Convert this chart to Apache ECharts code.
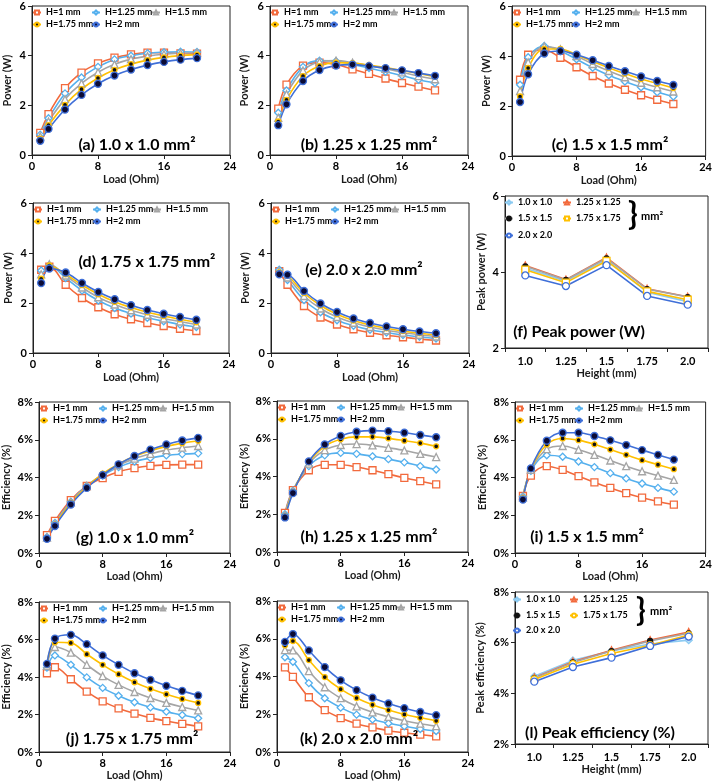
<!DOCTYPE html>
<html><head><meta charset="utf-8">
<script src="https://cdn.jsdelivr.net/npm/echarts@6/dist/echarts.min.js"></script>
<style>html,body{margin:0;padding:0;background:#fff}#c{width:715px;height:783px}</style>
</head><body><div id="c"></div>
<script>
// ---------- DATA ----------
const loads = [1, 2, 4, 6, 8, 10, 12, 14, 16, 18, 20];
const heightNames = ['H=1 mm', 'H=1.25 mm', 'H=1.5 mm', 'H=1.75 mm', 'H=2 mm'];
const xTicksLoad = [0, 8, 16, 24];
const heightCats = ['1.0', '1.25', '1.5', '1.75', '2.0'];
const sectionNames = ['1.0 x 1.0', '1.25 x 1.25', '1.5 x 1.5', '1.75 x 1.75', '2.0 x 2.0'];

// Power (W), rows = H=1, 1.25, 1.5, 1.75, 2 mm
const powerA = [
  [0.89, 1.65, 2.69, 3.32, 3.69, 3.92, 4.05, 4.12, 4.12, 4.09, 4.08],
  [0.82, 1.48, 2.48, 3.12, 3.55, 3.85, 4.00, 4.10, 4.14, 4.16, 4.15],
  [0.75, 1.35, 2.25, 2.88, 3.33, 3.65, 3.86, 3.98, 4.06, 4.10, 4.12],
  [0.66, 1.20, 2.02, 2.65, 3.10, 3.43, 3.66, 3.82, 3.93, 4.00, 4.04],
  [0.57, 1.05, 1.83, 2.42, 2.87, 3.20, 3.44, 3.62, 3.75, 3.84, 3.90]
];
const powerB = [
  [1.87, 2.83, 3.60, 3.72, 3.65, 3.45, 3.27, 3.08, 2.90, 2.75, 2.60],
  [1.70, 2.60, 3.55, 3.80, 3.78, 3.65, 3.50, 3.35, 3.20, 3.03, 2.90],
  [1.50, 2.45, 3.40, 3.75, 3.80, 3.72, 3.60, 3.47, 3.33, 3.18, 3.05],
  [1.35, 2.22, 3.18, 3.58, 3.72, 3.70, 3.62, 3.52, 3.40, 3.28, 3.15],
  [1.20, 2.04, 2.98, 3.42, 3.60, 3.64, 3.58, 3.50, 3.41, 3.30, 3.19]
];
const powerC = [
  [3.05, 4.05, 4.25, 3.93, 3.55, 3.20, 2.90, 2.65, 2.43, 2.25, 2.08],
  [2.85, 3.95, 4.40, 4.20, 3.87, 3.53, 3.23, 2.98, 2.75, 2.55, 2.38],
  [2.60, 3.75, 4.38, 4.27, 4.00, 3.68, 3.40, 3.15, 2.93, 2.75, 2.58],
  [2.38, 3.52, 4.28, 4.28, 4.05, 3.78, 3.52, 3.30, 3.08, 2.90, 2.72],
  [2.16, 3.27, 4.10, 4.20, 4.05, 3.83, 3.60, 3.39, 3.18, 3.00, 2.84]
];
const powerD = [
  [3.33, 3.45, 2.73, 2.20, 1.83, 1.55, 1.35, 1.20, 1.08, 0.97, 0.88],
  [3.30, 3.50, 3.00, 2.50, 2.10, 1.80, 1.58, 1.41, 1.27, 1.14, 1.04],
  [3.15, 3.55, 3.10, 2.62, 2.23, 1.94, 1.71, 1.53, 1.38, 1.26, 1.14],
  [2.97, 3.50, 3.15, 2.72, 2.35, 2.05, 1.82, 1.63, 1.48, 1.35, 1.23],
  [2.80, 3.38, 3.22, 2.80, 2.44, 2.15, 1.91, 1.72, 1.57, 1.44, 1.33]
];
const powerE = [
  [3.27, 2.73, 1.88, 1.42, 1.14, 0.95, 0.81, 0.71, 0.63, 0.56, 0.50],
  [3.33, 2.92, 2.12, 1.63, 1.31, 1.09, 0.93, 0.82, 0.72, 0.65, 0.58],
  [3.28, 3.02, 2.28, 1.78, 1.44, 1.21, 1.04, 0.91, 0.81, 0.73, 0.66],
  [3.22, 3.10, 2.40, 1.90, 1.55, 1.30, 1.12, 0.99, 0.88, 0.79, 0.72],
  [3.15, 3.13, 2.48, 1.98, 1.64, 1.38, 1.20, 1.06, 0.95, 0.86, 0.79]
];
// Peak power (W), rows = sections, columns = heights
const peakPower = [
  [4.10, 3.76, 4.32, 3.47, 3.22],
  [4.17, 3.80, 4.38, 3.56, 3.35],
  [4.15, 3.79, 4.36, 3.55, 3.34],
  [4.06, 3.72, 4.29, 3.49, 3.27],
  [3.91, 3.63, 4.18, 3.37, 3.14]
];
// Efficiency (%)
const effG = [
  [0.95, 1.70, 2.80, 3.55, 3.97, 4.30, 4.50, 4.62, 4.67, 4.68, 4.68],
  [0.85, 1.60, 2.72, 3.55, 4.10, 4.55, 4.85, 5.03, 5.17, 5.24, 5.28],
  [0.82, 1.55, 2.68, 3.55, 4.15, 4.65, 5.00, 5.25, 5.45, 5.58, 5.67],
  [0.78, 1.50, 2.65, 3.50, 4.20, 4.72, 5.12, 5.42, 5.65, 5.82, 5.95],
  [0.75, 1.43, 2.57, 3.45, 4.13, 4.70, 5.14, 5.48, 5.75, 5.96, 6.10]
];
const effH = [
  [2.07, 3.28, 4.33, 4.62, 4.62, 4.50, 4.33, 4.13, 3.93, 3.75, 3.58],
  [2.00, 3.25, 4.55, 5.12, 5.25, 5.20, 5.07, 4.92, 4.75, 4.55, 4.37],
  [1.95, 3.22, 4.68, 5.40, 5.67, 5.72, 5.65, 5.52, 5.38, 5.20, 5.03],
  [1.90, 3.18, 4.75, 5.60, 5.97, 6.10, 6.10, 6.02, 5.90, 5.77, 5.60],
  [1.83, 3.12, 4.80, 5.70, 6.15, 6.37, 6.43, 6.40, 6.32, 6.20, 6.08]
];
const effI = [
  [3.02, 4.10, 4.60, 4.40, 4.07, 3.74, 3.45, 3.17, 2.93, 2.73, 2.56],
  [3.00, 4.35, 5.18, 5.10, 4.85, 4.55, 4.23, 3.95, 3.68, 3.45, 3.25],
  [2.95, 4.40, 5.50, 5.67, 5.47, 5.20, 4.90, 4.60, 4.33, 4.10, 3.87],
  [2.90, 4.45, 5.75, 6.07, 5.98, 5.76, 5.48, 5.20, 4.92, 4.68, 4.44],
  [2.83, 4.48, 5.95, 6.37, 6.37, 6.20, 5.97, 5.72, 5.45, 5.20, 4.95]
];
const effJ = [
  [4.20, 4.52, 3.88, 3.22, 2.70, 2.33, 2.05, 1.82, 1.65, 1.50, 1.37],
  [4.50, 5.15, 4.65, 3.98, 3.42, 3.00, 2.65, 2.38, 2.15, 1.97, 1.80],
  [4.60, 5.60, 5.30, 4.65, 4.05, 3.58, 3.20, 2.88, 2.62, 2.40, 2.22],
  [4.65, 5.85, 5.82, 5.22, 4.65, 4.15, 3.72, 3.37, 3.08, 2.83, 2.62],
  [4.70, 6.05, 6.25, 5.75, 5.15, 4.65, 4.20, 3.85, 3.53, 3.26, 3.02]
];
const effK = [
  [4.48, 3.98, 2.90, 2.22, 1.80, 1.50, 1.30, 1.13, 1.02, 0.92, 0.83],
  [5.02, 4.78, 3.65, 2.85, 2.35, 1.98, 1.72, 1.52, 1.36, 1.22, 1.11],
  [5.40, 5.38, 4.28, 3.43, 2.85, 2.42, 2.10, 1.86, 1.66, 1.50, 1.37],
  [5.65, 5.88, 4.87, 3.97, 3.33, 2.86, 2.50, 2.22, 1.99, 1.81, 1.65],
  [5.83, 6.25, 5.38, 4.50, 3.80, 3.28, 2.88, 2.57, 2.32, 2.12, 1.95]
];
const peakEff = [
  [4.67, 5.30, 5.67, 5.95, 6.10],
  [4.62, 5.25, 5.70, 6.10, 6.42],
  [4.60, 5.22, 5.67, 6.07, 6.37],
  [4.55, 5.15, 5.57, 5.90, 6.30],
  [4.46, 5.04, 5.41, 5.87, 6.24]
];

// ---------- STYLE / LAYOUT ----------
const FONT = 'Lato';
const C_OR = '#F26A3D', C_LB = '#55B0EE', C_GR = '#A5A5A5', C_YE = '#FFC000', C_BL = '#3F6FD8';
const hStyles = [
  {line: C_OR, symbol: 'rect', size: 7, fill: '#fff', border: C_OR},
  {line: C_LB, symbol: 'diamond', size: 7, fill: '#fff', border: C_LB},
  {line: C_GR, symbol: 'triangle', size: 7, fill: '#fff', border: C_GR},
  {line: C_YE, symbol: 'circle', size: 5, fill: '#111', border: C_YE},
  {line: C_BL, symbol: 'circle', size: 7, fill: '#0B0B35', border: C_BL}
];
const peakStylesF = [
  {line: '#8CCBF2', symbol: 'diamond', size: 7, fill: '#BFE3F8', border: '#8CCBF2'},
  {line: C_OR, symbol: 'triangle', size: 7, fill: '#fff', border: C_OR},
  {line: C_GR, symbol: 'circle', size: 5, fill: '#111', border: '#111'},
  {line: C_YE, symbol: 'rect', size: 7, fill: '#fff', border: C_YE},
  {line: C_BL, symbol: 'circle', size: 7, fill: '#fff', border: C_BL}
];
const peakStylesL = peakStylesF.map((s, i) => i === 3 ? Object.assign({}, s, {symbol: 'circle'}) : s);

const charts = [
  {g: [32, 6, 198, 149], type: 'load', data: powerA, yMax: 6, yName: 'Power (W)', pct: false, yGap: 19, xGap: 19},
  {g: [270, 6, 198, 149], type: 'load', data: powerB, yMax: 6, yName: 'Power (W)', pct: false, yGap: 20, xGap: 19},
  {g: [512, 6, 196, 150], type: 'load', data: powerC, yMax: 6, yName: 'Power (W)', pct: false, yGap: 20, xGap: 19},
  {g: [33, 203, 196, 150], type: 'load', data: powerD, yMax: 6, yName: 'Power (W)', pct: false, yGap: 19, xGap: 19},
  {g: [271, 203, 198, 150], type: 'load', data: powerE, yMax: 6, yName: 'Power (W)', pct: false, yGap: 20, xGap: 19},
  {g: [505, 196, 203, 152], type: 'peak', data: peakPower, yMin: 2, yMax: 6, yName: 'Peak power (W)', pct: false, yGap: 18, xGap: 19, styles: peakStylesF, suffix: ''},
  {g: [39, 402, 191, 151], type: 'load', data: effG, yMax: 8, yName: 'Efficiency (%)', pct: true, yGap: 27, xGap: 17},
  {g: [277, 401, 191, 151], type: 'load', data: effH, yMax: 8, yName: 'Efficiency (%)', pct: true, yGap: 27, xGap: 17},
  {g: [515, 402, 192, 151], type: 'load', data: effI, yMax: 8, yName: 'Efficiency (%)', pct: true, yGap: 27, xGap: 17},
  {g: [39, 602, 191, 150], type: 'load', data: effJ, yMax: 8, yName: 'Efficiency (%)', pct: true, yGap: 27, xGap: 17},
  {g: [277, 601, 191, 151], type: 'load', data: effK, yMax: 8, yName: 'Efficiency (%)', pct: true, yGap: 27, xGap: 17},
  {g: [515, 592, 193, 152], type: 'peak', data: peakEff, yMin: 2, yMax: 8, yName: 'Peak efficiency (%)', pct: true, yGap: 29, xGap: 19, styles: peakStylesL, suffix: ' '}
];
const annotations = [
  ['(a) 1.0 x 1.0 mm\u00b2', 137, 145], ['(b) 1.25 x 1.25 mm\u00b2', 369, 145], ['(c) 1.5 x 1.5 mm\u00b2', 610, 145],
  ['(d) 1.75 x 1.75 mm\u00b2', 147, 262], ['(e) 2.0 x 2.0 mm\u00b2', 364, 270], ['(f) Peak power (W)', 579, 332],
  ['(g) 1.0 x 1.0 mm\u00b2', 135, 538], ['(h) 1.25 x 1.25 mm\u00b2', 369, 537], ['(i) 1.5 x 1.5 mm\u00b2', 587, 537],
  ['(j) 1.75 x 1.75 mm\u00b2', 132, 739], ['(k) 2.0 x 2.0 mm\u00b2', 359, 739], ['(l) Peak efficiency (%)', 600, 733]
];
const peakLegendPos = [
  [[517, 204], [575, 204], [517, 220], [575, 220], [517, 237]],
  [[525, 601], [582, 601], [525, 617], [582, 617], [525, 632]]
];
const braces = [[628, 215, 641, 216], [636, 611, 650, 611]];

// ---------- BUILD ----------
const grid = [], xAxis = [], yAxis = [], series = [], legend = [], graphic = [];
const axisText = {color: '#000', fontFamily: FONT, fontWeight: 'bold', fontSize: 11};
const nameText = {color: '#1a1a1a', fontFamily: FONT, fontWeight: 'bold', fontSize: 11};
const LW = 8;
function addLegend(name, textX, rowY) {
  legend.push({
    data: [name], left: textX - LW - 5, top: rowY - 6, padding: 0, itemWidth: LW, itemHeight: 5,
    selectedMode: false, textStyle: {fontFamily: FONT, fontWeight: 'bold', fontSize: 9, color: '#000'}
  });
}
function mkSeries(name, idx, st, data, smooth) {
  return {
    name: name, type: 'line', xAxisIndex: idx, yAxisIndex: idx, data: data, smooth: smooth,
    symbol: st.symbol, symbolSize: st.size, showAllSymbol: true,
    lineStyle: {color: st.line, width: 1.6},
    itemStyle: {color: st.fill, borderColor: st.border, borderWidth: 1.3},
    emphasis: {disabled: true}, animation: false
  };
}
let peakCount = 0;
charts.forEach((c, idx) => {
  grid.push({left: c.g[0], top: c.g[1], width: c.g[2], height: c.g[3], show: true, borderColor: '#222', borderWidth: 1, containLabel: false});
  const common = {
    gridIndex: idx, axisLine: {show: true, lineStyle: {color: '#222', width: 1}},
    axisTick: {show: true, inside: false, length: 4, lineStyle: {color: '#222'}},
    splitLine: {show: false}, nameLocation: 'middle', nameTextStyle: nameText
  };
  if (c.type === 'load') {
    xAxis.push(Object.assign({}, common, {type: 'value', min: xTicksLoad[0], max: xTicksLoad[xTicksLoad.length - 1], interval: 8,
      name: 'Load (Ohm)', nameGap: c.xGap, axisLabel: Object.assign({margin: 6}, axisText)}));
  } else {
    xAxis.push(Object.assign({}, common, {type: 'category', data: heightCats, boundaryGap: true,
      name: 'Height (mm)', nameGap: c.xGap, axisLabel: Object.assign({margin: 8}, axisText)}));
  }
  yAxis.push(Object.assign({}, common, {type: 'value', min: c.yMin || 0, max: c.yMax, interval: 2,
    name: c.yName, nameGap: c.yGap, axisLabel: Object.assign({margin: 6, formatter: c.pct ? '{value}%' : '{value}'}, axisText)}));

  if (c.type === 'load') {
    c.data.forEach((row, k) => {
      series.push(mkSeries(heightNames[k], idx, hStyles[k], loads.map((x, i) => [x, row[i]]), 0.35));
    });
    const L = c.g[0], T = c.g[1];
    const offs = [[13, 8], [72, 8], [132, 8], [13, 20], [72, 20]];
    heightNames.forEach((n, k) => addLegend(n, L + offs[k][0], T + offs[k][1]));
  } else {
    const pos = peakLegendPos[peakCount];
    c.data.forEach((row, k) => {
      const nm = sectionNames[k] + c.suffix;
      series.push(mkSeries(nm, idx, c.styles[k], row, false));
      addLegend(nm, pos[k][0], pos[k][1]);
    });
    const b = braces[peakCount];
    graphic.push({type: 'text', x: b[0], y: b[1], style: {text: '}', font: 'bold 32px ' + FONT, fill: '#000', align: 'left', verticalAlign: 'middle'}});
    graphic.push({type: 'text', x: b[2], y: b[3], style: {text: 'mm\u00b2', font: 'bold 11px ' + FONT, fill: '#000', align: 'left', verticalAlign: 'middle'}});
    peakCount++;
  }
});
annotations.forEach(a => {
  graphic.push({type: 'text', x: a[1], y: a[2], z: 100, style: {text: a[0], font: 'bold 16px ' + FONT, fill: '#000', align: 'center', verticalAlign: 'middle'}});
});

const chart = echarts.init(document.getElementById('c'), null, {renderer: 'canvas'});
chart.setOption({animation: false, backgroundColor: '#fff', grid, xAxis, yAxis, series, legend, graphic, tooltip: {show: false}});
</script></body></html>
